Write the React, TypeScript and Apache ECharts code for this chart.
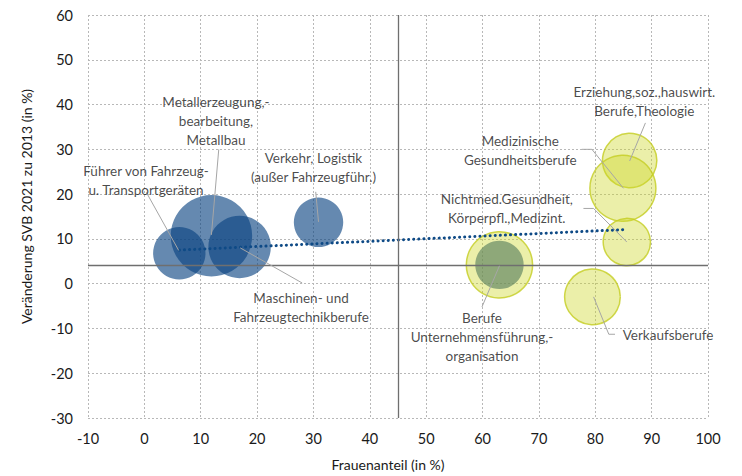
import React, { useEffect, useRef } from "react";
import * as echarts from "echarts";

// --- data ---
const blueNames = [
  "Führer von Fahrzeug-\nu. Transportgeräten",
  "Metallerzeugung,-\nbearbeitung,\nMetallbau",
  "Maschinen- und\nFahrzeugtechnikberufe",
  "Verkehr, Logistik\n(außer Fahrzeugführ.)",
  "Berufe\nUnternehmensführung,-\norganisation",
];
const blueX = [6.2, 11.9, 16.9, 30.9, 63.0];
const blueY = [6.8, 10.7, 8.2, 13.7, 4.2];
const blueSize = [686, 1660, 975, 610, 585];

const yellowNames = [
  "Erziehung,soz.,hauswirt.\nBerufe,Theologie",
  "Medizinische\nGesundheitsberufe",
  "Nichtmed.Gesundheit,\nKörperpfl.,Medizint.",
  "Berufe\nUnternehmensführung,-\norganisation",
  "Verkaufsberufe",
];
const yellowX = [86.1, 84.9, 85.6, 63.0, 79.5];
const yellowY = [27.5, 21.3, 9.3, 4.2, -2.95];
const yellowSize = [740, 1090, 560, 1100, 775];

const trendX = [6.2, 85.6];
const trendY = [7.5, 12.1];

const crossX = 45;
const crossY = 4.2;

const labelTexts = [
  "Führer von Fahrzeug-\nu. Transportgeräten",
  "Metallerzeugung,-\nbearbeitung,\nMetallbau",
  "Maschinen- und\nFahrzeugtechnikberufe",
  "Verkehr, Logistik\n(außer Fahrzeugführ.)",
  "Erziehung,soz.,hauswirt.\nBerufe,Theologie",
  "Medizinische\nGesundheitsberufe",
  "Nichtmed.Gesundheit,\nKörperpfl.,Medizint.",
  "Berufe\nUnternehmensführung,-\norganisation",
  "Verkaufsberufe",
];
const labelX = [0.3, 12.7, 27.8, 30.0, 88.7, 66.7, 64.3, 59.9, 92.9];
const labelY = [23.1, 36.4, -5.3, 26.0, 40.6, 29.8, 16.7, -12.0, -11.5];

const leaderLines: number[][][] = [
  [[0.35, 20.4], [6.1, 7.4]],
  [[13.2, 30.0], [11.9, 10.9]],
  [[28.0, 0.15], [17.0, 8.0]],
  [[30.4, 20.5], [30.9, 13.8]],
  [[88.9, 35.9], [86.1, 27.4]],
  [[77.6, 30.0], [79.4, 30.0], [85.0, 21.3]],
  [[77.9, 16.8], [79.7, 16.8], [85.6, 9.3]],
  [[59.9, -5.2], [63.0, 4.0]],
  [[83.5, -11.3], [82.4, -11.3], [79.7, -2.95]],
];

const xTicks = { min: -10, max: 100, interval: 10 };
const yTicks = { min: -30, max: 60, interval: 10 };

const FONT = "Lato, 'Noto Sans', sans-serif";

export default function App() {
  const ref = useRef<HTMLDivElement>(null);
  useEffect(() => {
    if (!ref.current) return;
    const chart = echarts.init(ref.current, undefined, { renderer: "svg" });
    const sizeFn = (d: number[]) => 2 * Math.sqrt(d[2]);
    const option: any = {
      animation: false,
      backgroundColor: "#ffffff",
      textStyle: { fontFamily: FONT },
      grid: { left: 88, right: 34, top: 15, bottom: 56, containLabel: false },
      xAxis: {
        type: "value",
        min: xTicks.min,
        max: xTicks.max,
        interval: xTicks.interval,
        name: "Frauenanteil (in %)",
        nameLocation: "middle",
        nameGap: 39,
        nameTextStyle: { fontSize: 14, color: "#1a1a1a", fontFamily: FONT, padding: [0, 20, 0, 0] },
        axisLine: { show: false },
        axisTick: { show: false },
        axisLabel: { fontSize: 14.5, color: "#1a1a1a", margin: 13, fontFamily: FONT },
        splitLine: {
          show: true,
          showMinLine: true,
          showMaxLine: true,
          lineStyle: { color: "#b8b8b8", type: [2, 2], width: 1 },
        },
      },
      yAxis: {
        type: "value",
        min: yTicks.min,
        max: yTicks.max,
        interval: yTicks.interval,
        name: "Veränderung SVB 2021 zu 2013 (in %)",
        nameLocation: "middle",
        nameGap: 55,
        nameTextStyle: { fontSize: 14, color: "#1a1a1a", fontFamily: FONT, padding: [0, 0, 0, 20] },
        axisLine: { show: false },
        axisTick: { show: false },
        axisLabel: { fontSize: 14.5, color: "#1a1a1a", margin: 15, fontFamily: FONT },
        splitLine: {
          show: true,
          showMinLine: true,
          showMaxLine: true,
          lineStyle: { color: "#b8b8b8", type: [2, 2], width: 1 },
        },
      },
      series: [
        {
          type: "scatter",
          name: "cross",
          data: [],
          z: 1,
          markLine: {
            silent: true,
            symbol: "none",
            label: { show: false },
            lineStyle: { color: "#6f6f6f", type: "solid", width: 1.3 },
            data: [{ xAxis: crossX }, { yAxis: crossY }],
          },
        },
        {
          type: "scatter",
          name: "Männerberufe",
          z: 2,
          data: blueX.map((x, i) => [x, blueY[i], blueSize[i], blueNames[i]]),
          symbolSize: sizeFn,
          itemStyle: { color: "rgba(8,66,128,0.78)", borderWidth: 0 },
        },
        {
          type: "scatter",
          name: "Frauenberufe",
          z: 3,
          data: yellowX.map((x, i) => [x, yellowY[i], yellowSize[i], yellowNames[i]]),
          symbolSize: sizeFn,
          itemStyle: {
            color: "rgba(204,214,40,0.5)",
            borderColor: "#c4cd22",
            borderWidth: 1.5,
          },
        },
        {
          type: "line",
          name: "Trend",
          z: 4,
          data: trendX.map((x, i) => [x, trendY[i]]),
          symbol: "none",
          lineStyle: { color: "#0e4a86", width: 3, type: [0.1, 5], cap: "round" },
        },
        {
          type: "lines",
          coordinateSystem: "cartesian2d",
          polyline: true,
          z: 5,
          data: leaderLines.map((c) => ({ coords: c })),
          lineStyle: { color: "#a6a6a6", width: 1, opacity: 1 },
        },
        {
          type: "scatter",
          name: "labels",
          z: 6,
          symbolSize: 0,
          data: labelX.map((x, i) => [x, labelY[i], labelTexts[i]]),
          label: {
            show: true,
            position: "inside",
            formatter: (p: any) => p.data[2],
            fontSize: 13.5,
            lineHeight: 19,
            color: "#1a1a1a",
            fontFamily: FONT,
            align: "center",
            verticalAlign: "middle",
          },
        },
      ],
    };
    chart.setOption(option);
    return () => chart.dispose();
  }, []);
  return (
    <div
      ref={ref}
      style={{ position: "fixed", left: 0, top: 0, width: 742, height: 476 }}
    />
  );
}
